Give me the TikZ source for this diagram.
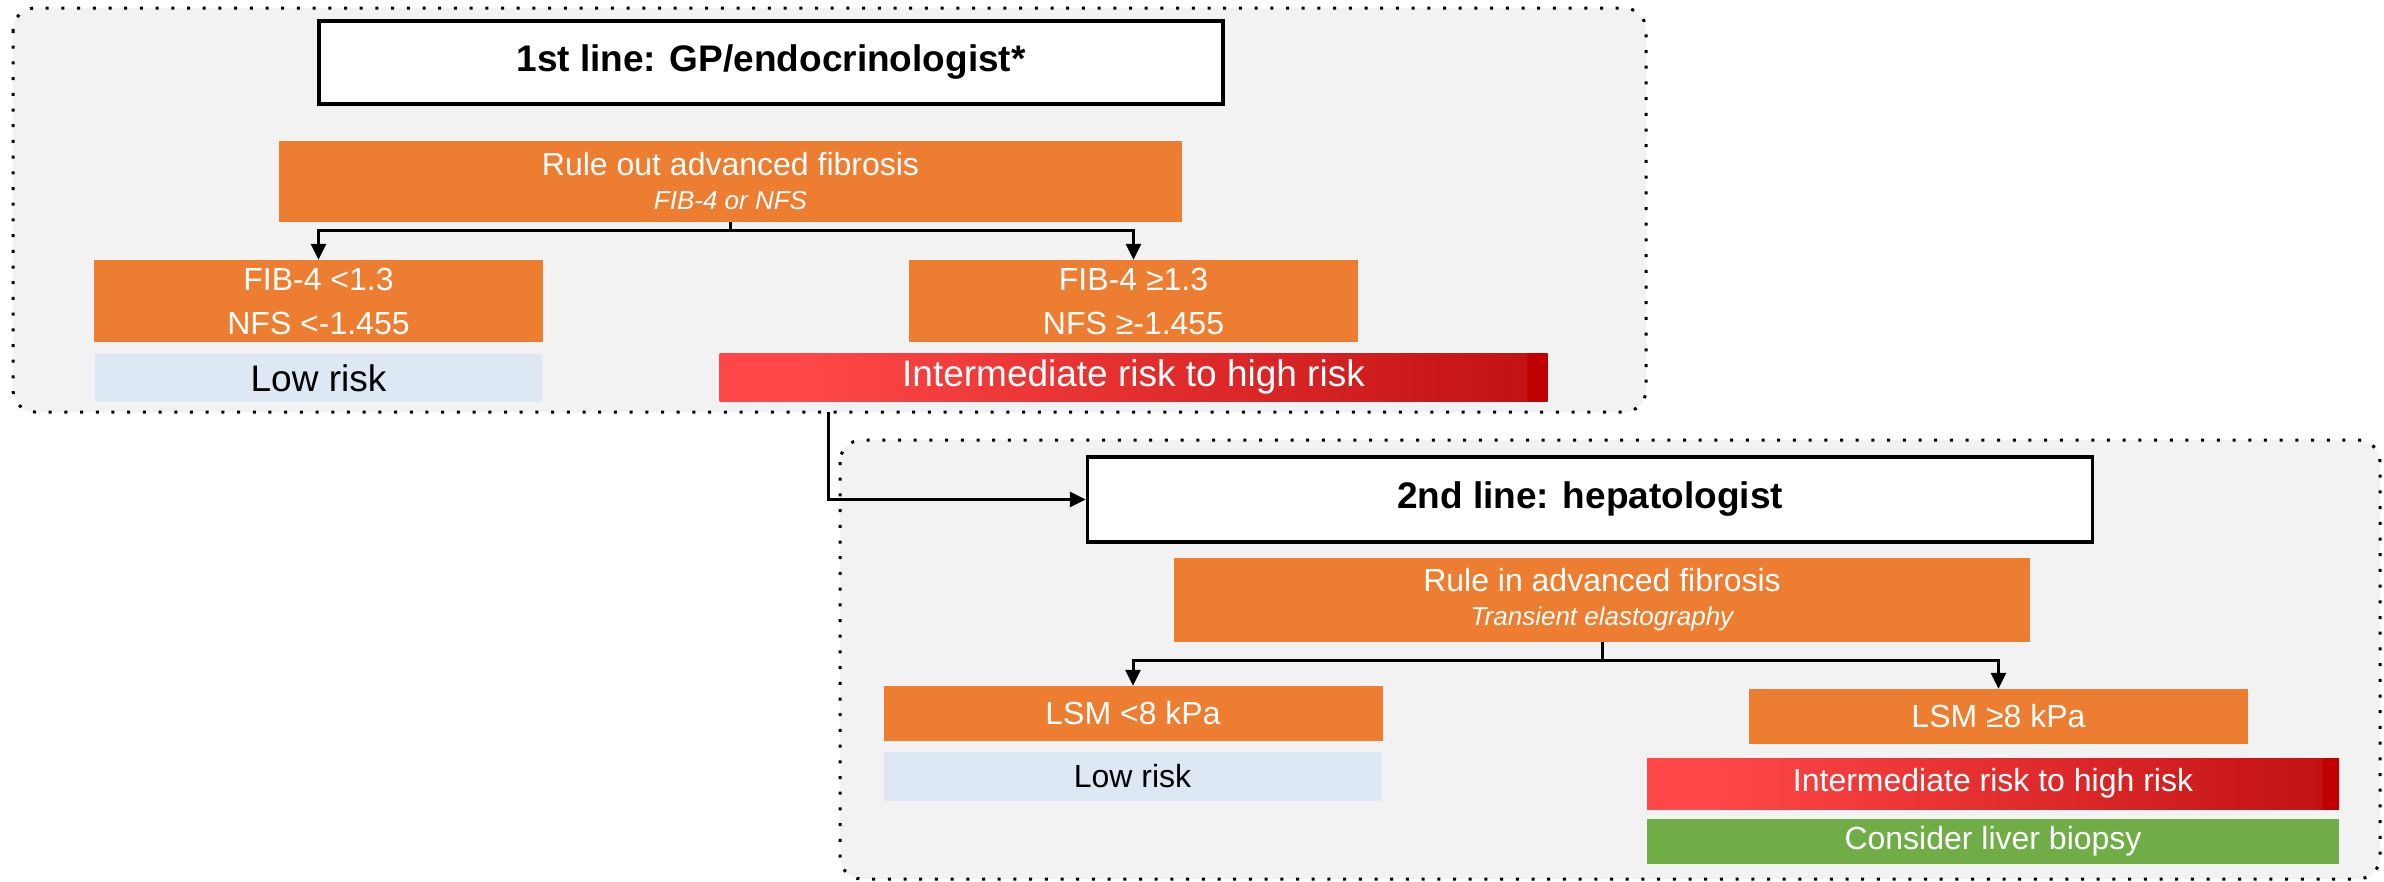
\documentclass[tikz,border=0pt]{standalone}
\usepackage{fontspec}
\setmainfont{Liberation Sans}
\usetikzlibrary{arrows.meta}

\definecolor{panelgray}{HTML}{F2F2F2}
\definecolor{boxorange}{HTML}{ED7D31}
\definecolor{lowblue}{HTML}{DEE8F4}
\definecolor{biopsygreen}{HTML}{70AD47}
\definecolor{riskA}{HTML}{FF4747}
\definecolor{riskB}{HTML}{C31212}
\definecolor{riskC}{HTML}{C00000}
\pgfdeclarehorizontalshading{riskshade}{100bp}{color(0bp)=(riskA); color(30bp)=(riskA); color(73.7bp)=(riskB); color(73.8bp)=(riskC); color(100bp)=(riskC)}

\tikzset{
  panel/.style={fill=panelgray, draw=black, line width=3pt, dash pattern=on 3pt off 12.7pt, rounded corners=22pt},
  linebox/.style={draw=black, fill=white, line width=3.5pt, inner sep=0pt, font=\fontsize{37}{44}\selectfont\bfseries},
  testbox/.style={fill=boxorange, text=white, inner sep=0pt, align=center, font=\fontsize{32}{44}\selectfont},
  lowbox/.style={fill=lowblue, text=black, inner sep=0pt},
  riskbox/.style={shading=riskshade, text=white, inner sep=0pt},
  biopsybox/.style={fill=biopsygreen, text=white, inner sep=0pt},
  flow/.style={line width=3pt, -{Triangle[length=16pt,width=15pt]}},
}

\begin{document}
\begin{tikzpicture}[x=1pt, y=-1pt]
    \useasboundingbox (0,0) rectangle (2384,881);

    % Draw the two panels
    \draw[panel] (13,8) rectangle (1646,412);
    \draw[panel] (840,440) rectangle (2380,879);

    % First line
    \node[linebox, minimum width=904, minimum height=83] (title1) at (771,62.5) {1st line: GP/endocrinologist*};
    \node[testbox, minimum width=903, minimum height=81] (ruleout) at (730.5,181)
        {Rule out advanced fibrosis\\[-10pt]{\fontsize{26}{34}\selectfont\itshape FIB-4 or NFS}};
    \node[testbox, minimum width=449, minimum height=82] (fiblow) at (318.5,301) {FIB-4 <1.3\\NFS <-1.455};
    \node[testbox, minimum width=449, minimum height=82] (fibhigh) at (1133.5,301) {FIB-4 ≥1.3\\NFS ≥-1.455};
    \node[lowbox, minimum width=447, minimum height=48, font=\fontsize{37}{44}\selectfont] (lowrisk1) at (318.5,378) {Low risk};
    \node[riskbox, minimum width=828, minimum height=48, font=\fontsize{37}{44}\selectfont] (highrisk1) at (1133.5,377) {Intermediate risk to high risk};

    % Second line
    \node[linebox, minimum width=1005, minimum height=85] (title2) at (1590,499.5) {2nd line: hepatologist};
    \node[testbox, minimum width=856, minimum height=84] (rulein) at (1602,600)
        {Rule in advanced fibrosis\\[-10pt]{\fontsize{26}{34}\selectfont\itshape Transient elastography}};
    \node[testbox, minimum width=499, minimum height=55] (lsmlow) at (1133,713.5) {LSM <8 kPa};
    \node[testbox, minimum width=499, minimum height=55] (lsmhigh) at (1998.5,716.5) {LSM ≥8 kPa};
    \node[lowbox, minimum width=497, minimum height=49, font=\fontsize{32}{44}\selectfont] (lowrisk2) at (1132.5,776.5) {Low risk};
    \node[riskbox, minimum width=692, minimum height=51, font=\fontsize{32}{44}\selectfont] (highrisk2) at (1993,783.5) {Intermediate risk to high risk};
    \node[biopsybox, minimum width=692, minimum height=45, font=\fontsize{32}{44}\selectfont] (biopsy) at (1993,841.5) {Consider liver biopsy};

    % Draw the arrows
    \draw[line width=3pt] (ruleout.south) -- ++(0,9) coordinate (split1);
    \draw[flow] (split1) -| (fiblow.north);
    \draw[flow] (split1) -| (fibhigh.north);
    \coordinate (exit1) at (828,412);
    \draw[flow] (exit1) |- (title2.west);
    \draw[line width=3pt] (rulein.south) -- ++(0,18) coordinate (split2);
    \draw[flow] (split2) -| (lsmlow.north);
    \draw[flow] (split2) -| (lsmhigh.north);

\end{tikzpicture}
\end{document}
